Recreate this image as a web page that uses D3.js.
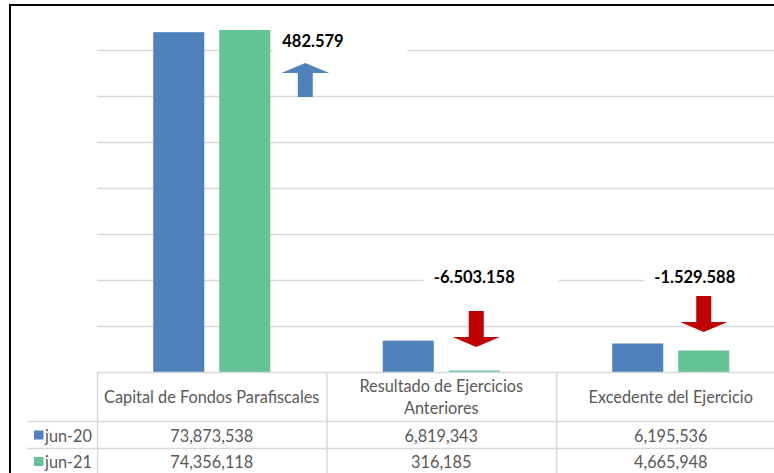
<!DOCTYPE html>
<html>
<head>
<meta charset="utf-8">
<script src="https://cdn.jsdelivr.net/npm/d3@7"></script>
<style>
  html, body { margin: 0; padding: 0; background: #fff; overflow: hidden; }
  svg { display: block; }
</style>
</head>
<body>
<svg id="chart" width="774" height="473"></svg>
<script>
// ---- data ----
const categories = ["Capital de Fondos Parafiscales", "Resultado de Ejercicios Anteriores", "Excedente del Ejercicio"];
const headerLines = [["Capital de Fondos Parafiscales"], ["Resultado de Ejercicios", "Anteriores"], ["Excedente del Ejercicio"]];
const seriesNames = ["jun-20", "jun-21"];
const jun20 = [73873538, 6819343, 6195536];
const jun21 = [74356118, 316185, 4665948];
const changeLabels = ["482.579", "-6.503.158", "-1.529.588"];
const changeDirection = ["up", "down", "down"];
const yTicks = [10e6, 20e6, 30e6, 40e6, 50e6, 60e6, 70e6, 80e6];

const colors = { "jun-20": "#4f81bd", "jun-21": "#63c395" };
const fmt = d3.format(",");

const svg = d3.select("#chart");
const W = 774, H = 473;

// layout
const plotLeft = 97, catStep = 229.5;
const plotTop = 4, baseY = 372;
const tableFont = 16.3;

const x0 = d3.scaleBand().domain(categories).range([plotLeft, plotLeft + catStep * categories.length]).padding(0);
const x1 = d3.scaleBand().domain(seriesNames).range([0, x0.bandwidth()]).paddingInner(0.227).paddingOuter(0.852);
const y = d3.scaleLinear().domain([0, 80e6]).range([baseY, plotTop]);

// gridlines
svg.append("g").selectAll("line").data(yTicks.slice(0, -1)).join("line")
  .attr("x1", plotLeft).attr("x2", W)
  .attr("y1", d => Math.round(y(d)) + 0.5).attr("y2", d => Math.round(y(d)) + 0.5)
  .attr("stroke", "#d9d9d9").attr("stroke-width", 1.5);

const rows = categories.map((c, i) => ({ c, i, a: jun20[i], b: jun21[i], label: changeLabels[i], dir: changeDirection[i] }));

// bars
const g = svg.append("g");
rows.forEach(r => {
  const vals = [{ s: "jun-20", v: r.a }, { s: "jun-21", v: r.b }];
  g.selectAll(null).data(vals).join("rect")
    .attr("x", d => x0(r.c) + x1(d.s))
    .attr("width", x1.bandwidth())
    .attr("y", d => y(d.v))
    .attr("height", d => baseY - y(d.v))
    .attr("fill", d => colors[d.s]);
});

// change labels + arrows
const ann = svg.append("g");
rows.forEach(r => {
  const gx = x0(r.c) + x1("jun-21");  // green bar left
  const bw = x1.bandwidth();
  let boxX, textY, ax, aTop, aBot, shaftW, headW, headH;
  if (r.dir === "up") {
    boxX = gx + bw + 2;
    textY = 47;
    ax = gx + bw + 35;
    aTop = 63; aBot = 97; shaftW = 15; headW = 48; headH = 10;
  } else {
    boxX = gx - 25 - (r.i === 2 ? 9 : 0);
    textY = 283;
    ax = gx + bw / 2 + (r.i === 2 ? 0 : 2);
    aTop = r.i === 1 ? 311 : 296; aBot = aTop + 36; shaftW = 15; headW = 47; headH = 10;
  }
  ann.append("rect").attr("x", boxX).attr("y", textY - 20).attr("width", 135).attr("height", 28).attr("fill", "#fff");
  ann.append("text").attr("x", boxX + 10).attr("y", textY)
    .attr("font-family", "Lato, 'Open Sans', sans-serif").attr("font-weight", "bold")
    .attr("font-size", 16.5).attr("fill", "#000").text(r.label);
  let p;
  if (r.dir === "up") {
    p = `M${ax},${aTop} L${ax + headW / 2},${aTop + headH} L${ax + shaftW / 2},${aTop + headH} L${ax + shaftW / 2},${aBot} L${ax - shaftW / 2},${aBot} L${ax - shaftW / 2},${aTop + headH} L${ax - headW / 2},${aTop + headH} Z`;
  } else {
    p = `M${ax},${aBot} L${ax + headW / 2},${aBot - headH} L${ax + shaftW / 2},${aBot - headH} L${ax + shaftW / 2},${aTop} L${ax - shaftW / 2},${aTop} L${ax - shaftW / 2},${aBot - headH} L${ax - headW / 2},${aBot - headH} Z`;
  }
  ann.append("path").attr("d", p).attr("fill", r.dir === "up" ? "#4f81bd" : "#c00000");
});

// ---- data table ----
const tbl = svg.append("g").attr("font-family", "Lato, 'Open Sans', sans-serif").attr("fill", "#595959");
const lineC = "#d9d9d9";
const row1Y = 421, row2Y = 448, row3Y = 475;
tbl.append("line").attr("x1", plotLeft).attr("x2", W).attr("y1", baseY + 0.5).attr("y2", baseY + 0.5).attr("stroke", lineC).attr("stroke-width", 1.5);
[row1Y, row2Y, row3Y].forEach(yy => {
  tbl.append("line").attr("x1", 27).attr("x2", W).attr("y1", yy + 0.5).attr("y2", yy + 0.5).attr("stroke", lineC).attr("stroke-width", 1.5);
});
categories.forEach(c => {
  tbl.append("line").attr("x1", x0(c) + 0.5).attr("x2", x0(c) + 0.5).attr("y1", baseY).attr("y2", H).attr("stroke", lineC).attr("stroke-width", 1.5);
});
tbl.append("line").attr("x1", x0.range()[1]).attr("x2", x0.range()[1]).attr("y1", baseY).attr("y2", H).attr("stroke", lineC).attr("stroke-width", 1.5);

// headers
categories.forEach((c, i) => {
  const cx = x0(c) + x0.bandwidth() / 2;
  const lines = headerLines[i];
  const t = tbl.append("text").attr("text-anchor", "middle").attr("font-size", tableFont);
  if (lines.length === 1) {
    t.append("tspan").attr("x", cx).attr("y", 403).text(lines[0]);
  } else {
    t.append("tspan").attr("x", cx).attr("y", 392).text(lines[0]);
    t.append("tspan").attr("x", cx).attr("y", 413.5).text(lines[1]);
  }
});
// values rows
const seriesVals = { "jun-20": jun20, "jun-21": jun21 };
const rowBase = { "jun-20": 441.5, "jun-21": 468 };
seriesNames.forEach(s => {
  const by = rowBase[s];
  tbl.append("rect").attr("x", 34).attr("y", by - 11).attr("width", 9.5).attr("height", 9).attr("fill", colors[s]);
  tbl.append("text").attr("x", 45).attr("y", by).attr("font-size", tableFont).text(s);
  categories.forEach((c, i) => {
    tbl.append("text").attr("x", x0(c) + x0.bandwidth() / 2).attr("y", by)
      .attr("text-anchor", "middle").attr("font-size", tableFont).text(fmt(seriesVals[s][i]));
  });
});

// chart frame (top and left borders visible)
svg.append("rect").attr("x", 10).attr("y", 5).attr("width", W + 20).attr("height", H + 20)
  .attr("fill", "none").attr("stroke", "#000").attr("stroke-width", 2);
</script>
</body>
</html>
